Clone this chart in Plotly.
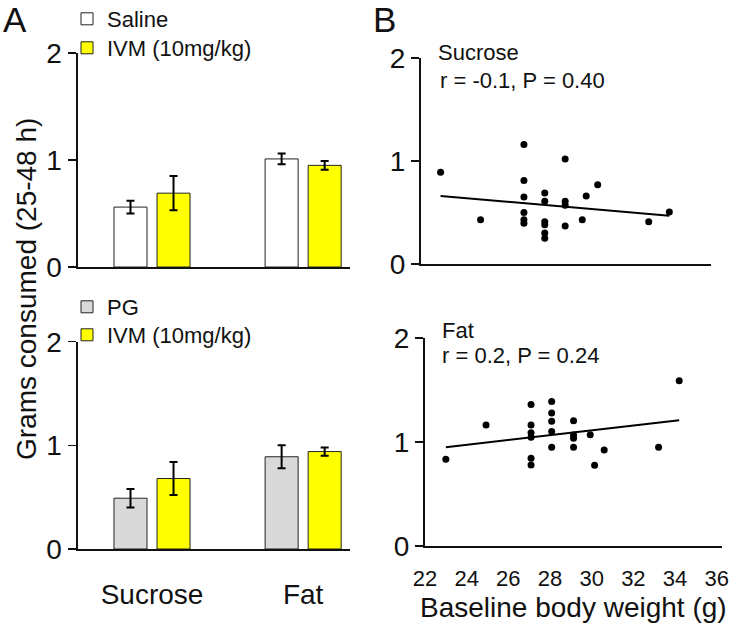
import numpy as np
import plotly.graph_objects as go

W, H = 734, 623
FONT = "Liberation Sans, Arial, sans-serif"

# ---------------- data ----------------
categories = ["Sucrose", "Fat"]
cat_pos = [0, 1]

saline = [0.56, 1.01]
saline_err = [0.06, 0.05]
ivm_top = [0.69, 0.95]
ivm_top_err = [0.16, 0.04]

pg = [0.49, 0.89]
pg_err = [0.09, 0.11]
ivm_bot = [0.68, 0.94]
ivm_bot_err = [0.16, 0.04]

sucrose_weight = [22.94, 24.86, 26.94, 26.94, 26.94, 26.94, 26.94, 26.94,
                  27.94, 27.94, 27.94, 27.94, 27.94, 27.94,
                  28.92, 28.92, 28.92, 28.92, 29.74, 29.93, 30.48, 32.93, 33.92]
sucrose_grams = [0.89, 0.43, 1.16, 0.81, 0.65, 0.50, 0.43, 0.395,
                 0.69, 0.61, 0.41, 0.38, 0.30, 0.25,
                 1.02, 0.61, 0.57, 0.37, 0.43, 0.66, 0.77, 0.41, 0.505]
sucrose_fit = (-0.01738, 1.0587)   # slope, intercept

fat_weight = [23.0, 24.93, 27.09, 27.09, 27.09, 27.09, 27.09, 27.09,
              28.08, 28.08, 28.08, 28.08, 28.08,
              29.13, 29.13, 29.13, 29.13, 29.93, 30.14, 30.6, 33.21, 34.2]
fat_grams = [0.834, 1.163, 1.36, 1.163, 1.09, 1.045, 0.843, 0.78,
             1.39, 1.28, 1.20, 1.10, 0.95,
             1.205, 1.067, 1.035, 0.95, 1.07, 0.776, 0.923, 0.95, 1.59]
fat_fit = (0.02313, 0.418)

y_ticks = [0, 1, 2]
x_ticks = [22, 24, 26, 28, 30, 32, 34, 36]

# ---------------- helpers ----------------
def px_x(a, b):
    return [a / W, b / W]

def px_y(top, bottom):
    return [(H - bottom) / H, (H - top) / H]

err_style = dict(type="data", color="black", thickness=2, width=4, visible=True)
bar_line = dict(color="#222222", width=1)

fig = go.Figure()

# top-left bars
fig.add_bar(x=cat_pos, y=saline, name="Saline", marker=dict(color="white", line=bar_line),
            error_y=dict(array=saline_err, **err_style), xaxis="x", yaxis="y", legend="legend")
fig.add_bar(x=cat_pos, y=ivm_top, name="IVM (10mg/kg)", marker=dict(color="#FFFF00", line=bar_line),
            error_y=dict(array=ivm_top_err, **err_style), xaxis="x", yaxis="y", legend="legend2")
# bottom-left bars
fig.add_bar(x=cat_pos, y=pg, name="PG", marker=dict(color="#D9D9D9", line=bar_line),
            error_y=dict(array=pg_err, **err_style), xaxis="x2", yaxis="y2", legend="legend3")
fig.add_bar(x=cat_pos, y=ivm_bot, name="IVM (10mg/kg)", marker=dict(color="#FFFF00", line=bar_line),
            error_y=dict(array=ivm_bot_err, **err_style), xaxis="x2", yaxis="y2", legend="legend4")

# scatter panels
def add_scatter(xs, ys, fit, xa, ya):
    fig.add_scatter(x=xs, y=ys, mode="markers", marker=dict(color="black", size=7),
                    showlegend=False, xaxis=xa, yaxis=ya)
    xl = np.array([min(xs), max(xs)])
    fig.add_scatter(x=xl, y=fit[0] * xl + fit[1], mode="lines",
                    line=dict(color="black", width=2), showlegend=False, xaxis=xa, yaxis=ya)

add_scatter(sucrose_weight, sucrose_grams, sucrose_fit, "x3", "y3")
add_scatter(fat_weight, fat_grams, fat_fit, "x4", "y4")

axline = dict(showline=True, linecolor="#111111", linewidth=2, showgrid=False, zeroline=False,
              automargin=False)
ytick_style = dict(tickvals=y_ticks, ticks="outside", ticklen=8, tickwidth=1.5, tickcolor="#111111",
                   tickfont=dict(size=28, color="#111111", family=FONT), range=[0, 2])


def leg(ycenter):
    return dict(x=67 / W, y=(H - ycenter) / H, xanchor="left", yanchor="middle",
                bgcolor="rgba(0,0,0,0)", font=dict(size=22, family=FONT, color="#111111"),
                itemclick=False, itemdoubleclick=False)


cat_range = [-0.493, 1.31]
fig.update_layout(
    template="none",
    width=W, height=H, margin=dict(l=0, r=0, t=0, b=0, autoexpand=False),
    paper_bgcolor="white", plot_bgcolor="white",
    font=dict(family=FONT, color="#111111"),
    barmode="group", bargap=0.4305, bargroupgap=0.2326,
    xaxis=dict(domain=px_x(77.5, 350), range=cat_range, showticklabels=False, ticks="",
               anchor="y", **axline),
    yaxis=dict(domain=px_y(53, 267), anchor="x", **ytick_style, **axline),
    xaxis2=dict(domain=px_x(77.5, 350), range=cat_range, tickvals=cat_pos, ticktext=categories,
                ticks="", ticklabelstandoff=19, tickfont=dict(size=28, family=FONT, color="#111111"),
                anchor="y2", **axline),
    yaxis2=dict(domain=px_y(341.7, 549), anchor="x2", **ytick_style, **axline),
    xaxis3=dict(domain=px_x(421, 711), range=[22, 35.92], showticklabels=False, ticks="",
                anchor="y3", **axline),
    yaxis3=dict(domain=px_y(58, 264), anchor="x3", **ytick_style, **axline),
    xaxis4=dict(domain=px_x(425, 721.7), range=[22, 36.24], tickvals=x_ticks, ticks="",
                ticklabelstandoff=12, tickfont=dict(size=22, family=FONT, color="#111111"),
                title=dict(text="Baseline body weight (g)", font=dict(size=28, family=FONT, color="#111111"),
                           standoff=13),
                anchor="y4", **axline),
    yaxis4=dict(domain=px_y(338, 546), anchor="x4", **ytick_style, **axline),
    legend=leg(19),
    legend2=leg(48),
    legend3=leg(307),
    legend4=leg(335),
)

ann = [
    dict(text="A", x=1 / W, y=(H - 20) / H, xanchor="left", yanchor="middle", font=dict(size=35)),
    dict(text="B", x=371 / W, y=(H - 20) / H, xanchor="left", yanchor="middle", font=dict(size=35)),
    dict(text="Grams consumed (25-48 h)", x=26 / W, y=(H - 289) / H, textangle=-90,
         xanchor="center", yanchor="middle", font=dict(size=28)),
    dict(text="Sucrose", x=436 / W, y=(H - 52) / H, xanchor="left", yanchor="middle", font=dict(size=22)),
    dict(text="r = -0.1, P = 0.40", x=438 / W, y=(H - 80) / H, xanchor="left", yanchor="middle",
         font=dict(size=22)),
    dict(text="Fat", x=440 / W, y=(H - 331) / H, xanchor="left", yanchor="middle", font=dict(size=22)),
    dict(text="r = 0.2, P = 0.24", x=440 / W, y=(H - 355) / H, xanchor="left", yanchor="middle",
         font=dict(size=22)),
]
for a in ann:
    a.update(xref="paper", yref="paper", showarrow=False)
    a["font"] = dict(family=FONT, color="#111111", **a["font"])
fig.update_layout(annotations=ann)

fig.write_html("out.html", config={"displayModeBar": False, "staticPlot": True},
               post_script="document.body.style.margin='0px';document.body.style.overflow='hidden';")
